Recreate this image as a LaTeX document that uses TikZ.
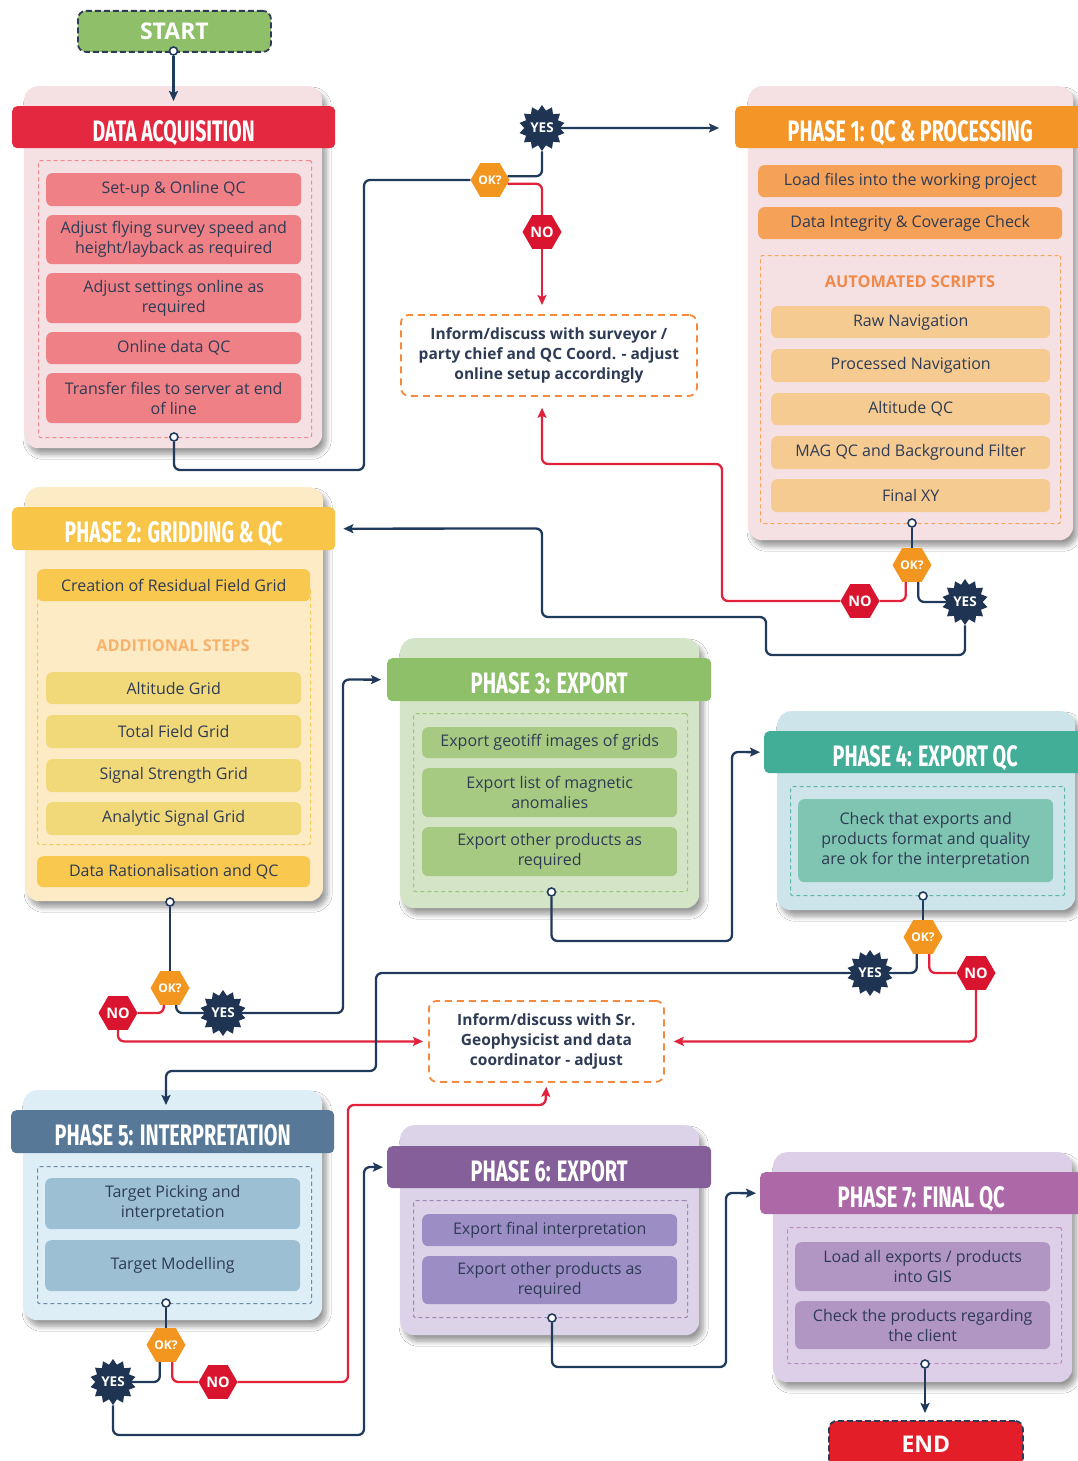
\documentclass[tikz,border=0pt]{standalone}
\usepackage{fontspec}
\setmainfont{Open Sans}
\newfontfamily\titlefont{Fira Sans}
\usetikzlibrary{shapes.geometric,arrows.meta,shadows.blur,calc}

% palette
\definecolor{ink}{HTML}{2E3B55}
\definecolor{navyl}{HTML}{203A5C}
\definecolor{redl}{HTML}{E1223A}
\definecolor{okc}{HTML}{F3961F}
\definecolor{noc}{HTML}{D9142E}
\definecolor{yesc}{HTML}{1E3452}
\definecolor{startc}{HTML}{8FBF69}
\definecolor{endc}{HTML}{E31E29}
\definecolor{informc}{HTML}{F58A3C}
% data acquisition
\definecolor{daBg}{HTML}{F5E1E4}\definecolor{daHd}{HTML}{E4283F}
\definecolor{daFr}{HTML}{F08A8F}\definecolor{daIt}{HTML}{EF8085}
% phase 1
\definecolor{aBg}{HTML}{F5E1E4}\definecolor{aHd}{HTML}{F39527}
\definecolor{aIt}{HTML}{F5A157}\definecolor{aFr}{HTML}{F2A55B}
\definecolor{aLb}{HTML}{F08A4B}\definecolor{aSc}{HTML}{F6CB91}
% phase 2
\definecolor{bBg}{HTML}{FDEBC6}\definecolor{bHd}{HTML}{F8C548}
\definecolor{bIt}{HTML}{F9C84F}\definecolor{bFr}{HTML}{F6C85A}
\definecolor{bLb}{HTML}{F7B36E}\definecolor{bSt}{HTML}{F1D97A}
% phase 3
\definecolor{cBg}{HTML}{D4E4C7}\definecolor{cHd}{HTML}{8EC06A}
\definecolor{cFr}{HTML}{9CC87A}\definecolor{cIt}{HTML}{A7CA82}
% phase 4
\definecolor{dBg}{HTML}{CDE4EA}\definecolor{dHd}{HTML}{43AE98}
\definecolor{dFr}{HTML}{5BB8A4}\definecolor{dIt}{HTML}{80C5B1}
% phase 5
\definecolor{eBg}{HTML}{DDEEF7}\definecolor{eHd}{HTML}{587897}
\definecolor{eFr}{HTML}{6E8AA6}\definecolor{eIt}{HTML}{9DBFD4}
% phase 6
\definecolor{fBg}{HTML}{DDD3E9}\definecolor{fHd}{HTML}{845F99}
\definecolor{fFr}{HTML}{9D87B5}\definecolor{fIt}{HTML}{9D8DC5}
% phase 7
\definecolor{gBg}{HTML}{DCCFE7}\definecolor{gHd}{HTML}{AD68A7}
\definecolor{gFr}{HTML}{C08AC0}\definecolor{gIt}{HTML}{B195C3}

\newcommand\bodyfont{\fontsize{16}{20}\selectfont}
% condensed phase title, stretched to a given width, set slightly low in its bar
\newcommand\ttl[2]{\raisebox{-3.5pt}[21pt][0pt]{\resizebox{#1pt}{21pt}{\titlefont\bfseries #2}}}
% box from its top-left and bottom-right corners
\newcommand\blk[7]{\node[#2, anchor=north west, minimum width={#5-#3}, minimum height={#6-#4}] (#1) at (#3,#4) {#7};}

\tikzset{
  panel/.style={rounded corners=14pt, inner sep=0pt,
    blur shadow={shadow xshift=4pt, shadow yshift=-6pt, shadow blur radius=5pt, shadow blur steps=8, shadow opacity=40}},
  head/.style={rounded corners=5pt, inner sep=0pt, text=white},
  item/.style={rounded corners=6pt, inner sep=0pt, text=ink, align=center, font=\bodyfont},
  frame/.style={dash pattern=on 4pt off 3pt, line width=1.1pt, rounded corners=2pt, inner sep=0pt},
  inform/.style={draw=informc, dash pattern=on 7pt off 5pt, line width=1.8pt, rounded corners=8pt,
    inner sep=0pt, align=center, text=ink, font=\fontsize{15.5}{20}\selectfont\bfseries},
  terminal/.style={draw=ink, dash pattern=on 6pt off 3pt, line width=1.8pt, rounded corners=8pt,
    inner sep=0pt, text=white, font=\fontsize{23}{23}\selectfont\bfseries},
  okhex/.style={regular polygon, regular polygon sides=6, minimum size=39pt, inner sep=0pt,
    fill=okc, text=white, font=\fontsize{12}{12}\selectfont\bfseries},
  nohex/.style={regular polygon, regular polygon sides=6, minimum size=39pt, inner sep=0pt,
    fill=noc, text=white, font=\fontsize{14.5}{14.5}\selectfont\bfseries},
  yesstar/.style={star, star points=14, star point ratio=1.3, minimum size=46pt, inner sep=0pt,
    fill=yesc, text=white, font=\fontsize{13.5}{13.5}\selectfont\bfseries},
  port/.style={circle, draw=navyl, fill=white, line width=1.6pt, minimum size=8pt, inner sep=0pt},
  nv/.style={draw=navyl, line width=2.3pt, rounded corners=6pt},
  rd/.style={draw=redl, line width=2.3pt, rounded corners=6pt},
  tip/.style={-{Stealth[length=10pt,width=9pt,inset=2pt]}},
  steplabel/.style={font=\fontsize{16.3}{16.3}\selectfont\bfseries, inner sep=0pt},
}

\begin{document}
\begin{tikzpicture}[x=1pt,y=-1pt]
\useasboundingbox (0,0) rectangle (1077,1461);
\fill[white] (0,0) rectangle (1077,1461);

% ---------- start ----------
\blk{start}{terminal, fill=startc}{77}{10}{270}{51}{START}

% ---------- data acquisition ----------
\blk{da}{panel, fill=daBg}{24}{86}{322}{448}{}
\blk{da-head}{head, fill=daHd}{12}{106}{335}{148}{\ttl{162}{DATA ACQUISITION}}
\blk{da-frame}{frame, draw=daFr}{38}{160}{311}{437}{}
\blk{da-1}{item, fill=daIt}{46}{173}{301}{206}{Set-up \& Online QC}
\blk{da-2}{item, fill=daIt}{46}{215}{301}{264}{Adjust flying survey speed and\\height/layback as required}
\blk{da-3}{item, fill=daIt}{46}{273}{301}{323}{Adjust settings online as\\required}
\blk{da-4}{item, fill=daIt}{46}{332}{301}{364}{Online data QC}
\blk{da-5}{item, fill=daIt}{46}{373}{301}{423}{Transfer files to server at end\\of line}

% ---------- phase 1 ----------
\blk{p1}{panel, fill=aBg}{748}{86}{1073}{540}{}
\blk{p1-head}{head, fill=aHd}{735}{106}{1085}{148}{\ttl{245}{PHASE 1: QC \& PROCESSING}}
\blk{p1-1}{item, fill=aIt}{758}{165}{1062}{197}{Load files into the working project}
\blk{p1-2}{item, fill=aIt}{758}{207}{1062}{239}{Data Integrity \& Coverage Check}
\blk{p1-frame}{frame, draw=aFr}{760}{255}{1060}{523}{}
\node[steplabel, text=aLb] (p1-label) at (910,282) {AUTOMATED SCRIPTS};
\blk{p1-3}{item, fill=aSc}{771}{306}{1050}{338}{Raw Navigation}
\blk{p1-4}{item, fill=aSc}{771}{349}{1050}{382}{Processed Navigation}
\blk{p1-5}{item, fill=aSc}{771}{393}{1050}{425}{Altitude QC}
\blk{p1-6}{item, fill=aSc}{771}{436}{1050}{469}{MAG QC and Background Filter}
\blk{p1-7}{item, fill=aSc}{771}{479}{1050}{512}{Final XY}

% ---------- phase 2 ----------
\blk{p2}{panel, fill=bBg}{25}{487}{323}{901}{}
\blk{p2-head}{head, fill=bHd}{12}{507}{335}{550}{\ttl{218}{PHASE 2: GRIDDING \& QC}}
\blk{p2-frame}{frame, draw=bFr}{37}{586}{310}{844}{}
\blk{p2-1}{item, fill=bIt}{37}{569}{310}{601}{Creation of Residual Field Grid}
\node[steplabel, text=bLb] (p2-label) at (173,646) {ADDITIONAL STEPS};
\blk{p2-2}{item, fill=bSt}{46}{672}{301}{704}{Altitude Grid}
\blk{p2-3}{item, fill=bSt}{46}{715}{301}{748}{Total Field Grid}
\blk{p2-4}{item, fill=bSt}{46}{759}{301}{792}{Signal Strength Grid}
\blk{p2-5}{item, fill=bSt}{46}{802}{301}{835}{Analytic Signal Grid}
\blk{p2-6}{item, fill=bIt}{37}{856}{310}{887}{Data Rationalisation and QC}

% ---------- phase 3 ----------
\blk{p3}{panel, fill=cBg}{400}{638}{699}{908}{}
\blk{p3-head}{head, fill=cHd}{387}{658}{711}{701}{\ttl{157}{PHASE 3: EXPORT}}
\blk{p3-frame}{frame, draw=cFr}{413}{713}{687}{891}{}
\blk{p3-1}{item, fill=cIt}{422}{727}{677}{758}{Export geotiff images of grids}
\blk{p3-2}{item, fill=cIt}{422}{768}{677}{817}{Export list of magnetic\\anomalies}
\blk{p3-3}{item, fill=cIt}{422}{827}{677}{876}{Export other products as\\required}

% ---------- phase 4 ----------
\blk{p4}{panel, fill=dBg}{777}{711}{1075}{910}{}
\blk{p4-head}{head, fill=dHd}{764}{731}{1086}{773}{\ttl{185}{PHASE 4: EXPORT QC}}
\blk{p4-frame}{frame, draw=dFr}{790}{786}{1064}{895}{}
\blk{p4-1}{item, fill=dIt}{798}{799}{1053}{882}{Check that exports and\\products format and quality\\are ok for the interpretation}

% ---------- phase 5 ----------
\blk{p5}{panel, fill=eBg}{23}{1090}{322}{1320}{}
\blk{p5-head}{head, fill=eHd}{11}{1110}{334}{1153}{\ttl{236}{PHASE 5: INTERPRETATION}}
\blk{p5-frame}{frame, draw=eFr}{37}{1166}{311}{1303}{}
\blk{p5-1}{item, fill=eIt}{45}{1178}{300}{1229}{Target Picking and\\interpretation}
\blk{p5-2}{item, fill=eIt}{45}{1240}{300}{1291}{Target Modelling}

% ---------- phase 6 ----------
\blk{p6}{panel, fill=fBg}{400}{1125}{699}{1335}{}
\blk{p6-head}{head, fill=fHd}{387}{1146}{711}{1188}{\ttl{157}{PHASE 6: EXPORT}}
\blk{p6-frame}{frame, draw=fFr}{413}{1200}{687}{1317}{}
\blk{p6-1}{item, fill=fIt}{422}{1214}{677}{1246}{Export final interpretation}
\blk{p6-2}{item, fill=fIt}{422}{1256}{677}{1304}{Export other products as\\required}

% ---------- phase 7 ----------
\blk{p7}{panel, fill=gBg}{773}{1152}{1072}{1382}{}
\blk{p7-head}{head, fill=gHd}{760}{1172}{1082}{1214}{\ttl{167}{PHASE 7: FINAL QC}}
\blk{p7-frame}{frame, draw=gFr}{787}{1227}{1061}{1363}{}
\blk{p7-1}{item, fill=gIt}{795}{1242}{1050}{1291}{Load all exports / products\\into GIS}
\blk{p7-2}{item, fill=gIt}{795}{1301}{1050}{1349}{Check the products regarding\\the client}

% ---------- end ----------
\blk{end}{terminal, fill=endc}{828}{1420}{1022}{1466}{END}

% ---------- feedback boxes ----------
\blk{inf1}{inform}{400}{314}{696}{395}{Inform/discuss with surveyor /\\party chief and QC Coord. - adjust\\online setup accordingly}
\blk{inf2}{inform}{428}{1000}{663}{1081}{Inform/discuss with Sr.\\Geophysicist and data\\coordinator - adjust}

% ---------- decisions ----------
\node[okhex] (ok1) at (490,180) {OK?};
\node[yesstar] (yes1) at (542,128) {YES};
\node[nohex] (no1) at (542,232) {NO};
\node[okhex] (ok2) at (912,565) {OK?};
\node[nohex] (no2) at (860,601) {NO};
\node[yesstar] (yes2) at (965,602) {YES};
\node[okhex] (ok3) at (170,988) {OK?};
\node[nohex] (no3) at (118,1013) {NO};
\node[yesstar] (yes3) at (223,1013) {YES};
\node[okhex] (ok4) at (923,937) {OK?};
\node[yesstar] (yes4) at (870,973) {YES};
\node[nohex] (no4) at (976,973) {NO};
\node[okhex] (ok5) at (166,1345) {OK?};
\node[yesstar] (yes5) at (113,1382) {YES};
\node[nohex] (no5) at (218,1382) {NO};

% ---------- ports ----------
\node[port] (start-port) at (173.5,51) {};
\node[port] (da-port) at (174,437) {};
\node[port] (p1-port) at (912,523) {};
\node[port] (p2-port) at (170,902) {};
\node[port] (p3-port) at (551.5,892) {};
\node[port] (p4-port) at (923,896) {};
\node[port] (p5-port) at (166,1303) {};
\node[port] (p6-port) at (552,1318) {};
\node[port] (p7-port) at (925,1364) {};

% ---------- connectors ----------
\draw[nv, tip, shorten >=5pt] (start-port) -- (start-port |- da-head.north);

\draw[nv] (da-port) -- (174,470) -- (364,470) -- (364,180) -- (ok1);
\draw[nv] (ok1.12) -| (yes1);
\draw[rd] (ok1.-12) -| (no1);
\draw[rd, tip, shorten >=9pt] (no1) -- (no1 |- inf1.north);
\draw[nv, tip, shorten >=16pt] (yes1) -- (yes1 -| p1-head.west);

\draw[nv] (p1-port) -- (ok2);
\draw[rd] (ok2.-110) |- (no2);
\draw[nv] (ok2.-70) |- (yes2);
\draw[rd, tip, shorten >=11pt] (no2) -- (722,601) -- (722,464) -- (542,464) -- (no1 |- inf1.south);
\draw[nv, tip, shorten >=8pt] (yes2) -- (965,655) -- (766,655) -- (766,617) -- (542,617) -- (542,528.5) -- (p2-head.east);

\draw[nv] (p2-port) -- (ok3);
\draw[rd] (ok3.-110) |- (no3);
\draw[nv] (ok3.-70) |- (yes3);
\draw[rd, tip, shorten >=5pt] (no3) |- (inf2.west);
\draw[nv, tip, shorten >=6pt] (yes3) -- (343,1013) -- (343,679.5) -- (p3-head.west);

\draw[nv, tip, shorten >=4pt] (p3-port) -- (551.5,941) -- (732,941) -- (732,752) -- (p4-head.west);

\draw[nv] (p4-port) -- (ok4);
\draw[nv] (ok4.-110) |- (yes4);
\draw[rd] (ok4.-70) |- (no4);
\draw[nv, tip, shorten >=5pt] (yes4) -- (376,973) -- (376,1071) -- (166,1071) -- (p5-port |- p5-head.north);
\draw[rd, tip, shorten >=9pt] (no4) |- (inf2.east);

\draw[nv] (p5-port) -- (ok5);
\draw[nv] (ok5.-110) |- (yes5);
\draw[rd] (ok5.-70) |- (no5);
\draw[rd, tip, shorten >=4pt] (no5) -- (348,1382) -- (348,1105) -- (545.5,1105) -- (inf2.south);
\draw[nv, tip, shorten >=4pt] (yes5) -- (113,1435) -- (364,1435) -- (364,1167) -- (p6-head.west);

\draw[nv, tip, shorten >=4pt] (p6-port) -- (552,1367) -- (726,1367) -- (726,1193) -- (p7-head.west);
\draw[nv, tip, shorten >=7pt] (p7-port) -- (p7-port |- end.north);
\end{tikzpicture}
\end{document}
